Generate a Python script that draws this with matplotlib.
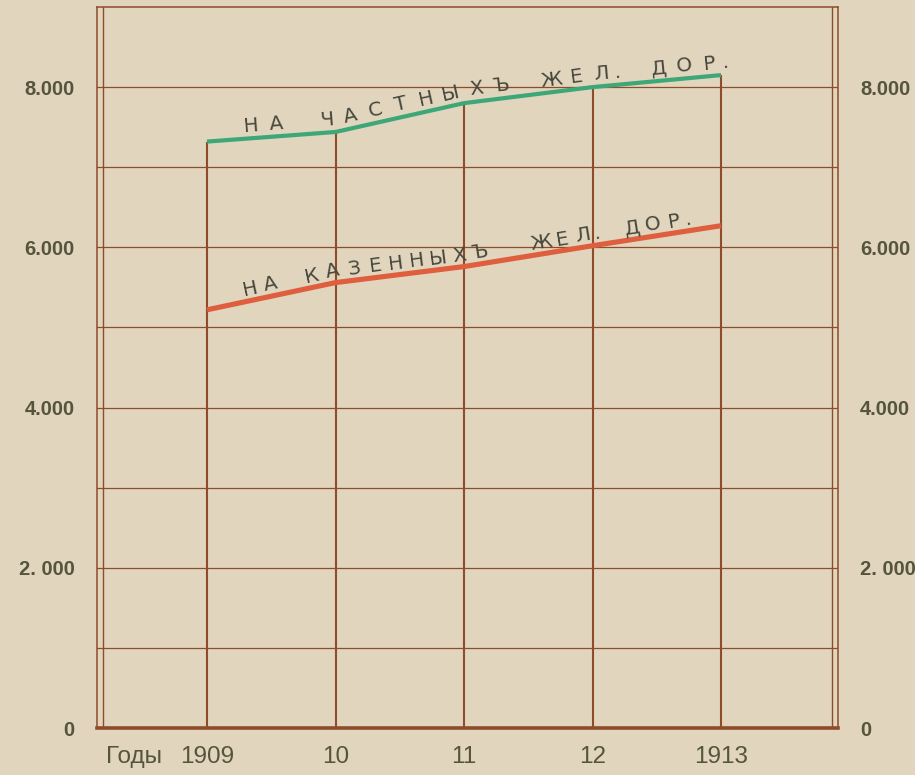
import matplotlib
matplotlib.use('Agg')
import matplotlib.pyplot as plt
import numpy as np
from matplotlib import font_manager as fm
from matplotlib.transforms import IdentityTransform

# ---------------- data ----------------
years = [1909, 1910, 1911, 1912, 1913]
year_labels = ['1909', '10', '11', '12', '1913']
private_rr = [7320, 7440, 7800, 8000, 8150]   # на частных жел. дор.
state_rr = [5220, 5560, 5760, 6020, 6270]     # на казенных жел. дор.
y_ticks = [0, 2000, 4000, 6000, 8000]
y_tick_labels = ['0', '2. 000', '4.000', '6.000', '8.000']
grid_levels = [1000, 2000, 3000, 4000, 5000, 6000, 7000, 8000]
label_private = 'НА ЧАСТНЫХЪ ЖЕЛ. ДОР.'
label_state = 'НА КАЗЕННЫХЪ  ЖЕЛ. ДОР.'
axis_word = 'Годы'

# ---------------- style ----------------
W, H = 915, 775
BG = '#e1d5be'
BROWN = '#8e4c29'
GREEN = '#3da778'
RED = '#de5e3d'
TICK_COL = '#55543c'
TXT_COL = '#48483e'

names = {f.name for f in fm.fontManager.ttflist}
if 'Liberation Sans Narrow' in names:
    ytick_font = dict(family='Liberation Sans Narrow', weight='bold', size=17)
else:
    ytick_font = dict(family='Liberation Sans', weight='bold', size=14.5)
xtick_font = dict(family='Liberation Sans', size=17.5)

fig = plt.figure(figsize=(W / 100, H / 100), dpi=100, facecolor=BG)
L, R, T, B = 97, 838, 7, 728
ax = fig.add_axes([L / W, 1 - B / H, (R - L) / W, (B - T) / H])
ax.set_facecolor(BG)
ax.set_xlim(1908.144, 1913.91)
ax.set_ylim(0, 9000)

for s in ax.spines.values():
    s.set_color(BROWN)
    s.set_linewidth(1.1)
ax.spines['bottom'].set_linewidth(2.6)

# inner frame lines (double border left/right)
off = 6 / (R - L)
ax.plot([off, off], [0, 1], transform=ax.transAxes, color=BROWN, lw=1.0)
ax.plot([1 - off, 1 - off], [0, 1], transform=ax.transAxes, color=BROWN, lw=1.0)

for g in grid_levels:
    ax.axhline(g, color=BROWN, lw=0.9, zorder=1)
ax.vlines(years, 0, private_rr, color=BROWN, lw=1.5, zorder=2)

ax.plot(years, private_rr, color=GREEN, lw=3.0, solid_capstyle='butt', zorder=3)
ax.plot(years, state_rr, color=RED, lw=3.7, solid_capstyle='butt', zorder=3)

ax.set_yticks(y_ticks, y_tick_labels)
ax.tick_params(axis='y', length=0, pad=16, labelleft=True, labelright=True,
               labelcolor=TICK_COL)
for t in ax.yaxis.get_major_ticks():
    t.label1.set(**ytick_font)
    t.label2.set(**ytick_font)
ax.set_xticks(years, year_labels)
ax.tick_params(axis='x', length=0, pad=13, labelcolor=TICK_COL)
for lab in ax.get_xticklabels():
    lab.set(**xtick_font)
ax.annotate(axis_word, xy=(years[0], 0), xycoords=('data', 'axes fraction'),
            xytext=(-73, -18), textcoords='offset pixels', ha='center', va='top',
            color=TICK_COL, **xtick_font)


def place_label(xs, ys, text, start_px, letter_adv, space_adv, dot_adv, base_off):
    pts = ax.transData.transform(np.column_stack([xs, ys]))
    px, py = pts[:, 0], pts[:, 1]
    pos, prev = start_px, None
    for ch in text:
        a = space_adv if ch == ' ' else dot_adv if ch == '.' else letter_adv
        if prev is not None:
            pos += (prev + a) / 2
        prev = a
        if ch == ' ':
            continue
        cy = np.interp(pos, px, py)
        i = int(np.clip(np.searchsorted(px, pos) - 1, 0, len(px) - 2))
        ang = np.degrees(np.arctan2(py[i + 1] - py[i], px[i + 1] - px[i]))
        fig.text(pos, cy + base_off, ch, transform=IdentityTransform(),
                 rotation=ang, rotation_mode='anchor', ha='center', va='baseline',
                 family='DejaVu Sans', size=14.5, color=TXT_COL)


place_label(years, private_rr, label_private, 252, 25, 25, 8, 7)
place_label(years, state_rr, label_state, 251, 21, 20, 8, 6)

fig.savefig('out.png', dpi=100, facecolor=BG)
